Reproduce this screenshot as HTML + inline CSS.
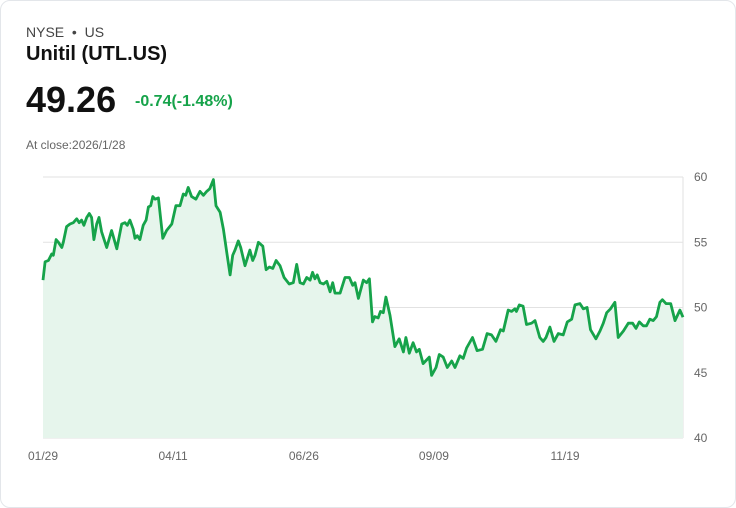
<!DOCTYPE html>
<html><head><meta charset="utf-8"><style>
body{margin:0;background:#fff;font-family:"Liberation Sans",sans-serif;}
.card{position:absolute;left:0;top:0;width:734px;height:506px;border:1px solid #e3e6ea;border-radius:10px;background:#fff;}
.t{position:absolute;white-space:nowrap;}
</style></head><body>
<div class="card">
<div class="t" style="left:25px;top:23px;font-size:14px;color:#444">NYSE &nbsp;•&nbsp; US</div>
<div class="t" style="left:25px;top:42px;font-size:20px;font-weight:bold;color:#111">Unitil (UTL.US)</div>
<div class="t" style="left:25px;top:78px;font-size:36px;font-weight:bold;color:#111">49.26</div>
<div class="t" style="left:134px;top:92px;font-size:16px;font-weight:bold;color:#16a34a">-0.74(-1.48%)</div>
<div class="t" style="left:25px;top:137px;font-size:12px;color:#666">At close:2026/1/28</div>
<svg id="chart" width="736" height="508" style="position:absolute;left:-1px;top:-1px"></svg>
</div>
<script>
const yTicks=[40,45,50,55,60];
const xLabels=["01/29","04/11","06/26","09/09","11/19"];
const xLabelDays=[0,50.6,101.5,152.1,203.1];
const totalDays=249;
const days=[0,0.8,2.1,3.4,4.0,5.1,6.0,7.3,7.9,9.2,10.5,11.8,13.1,14.1,15.0,15.9,17.0,18.0,18.9,19.8,20.9,21.8,22.8,24.8,26.7,28.7,30.6,31.9,32.8,33.8,35.1,35.8,36.7,37.7,39.0,40.1,41.0,41.9,42.7,43.6,44.9,46.6,48.1,50.1,51.7,53.3,54.6,55.5,56.5,57.8,59.5,61.1,62.4,63.7,64.9,66.3,67.3,68.9,70.2,71.5,72.8,73.8,74.7,76.0,76.9,78.6,80.5,81.6,82.5,83.8,85.5,86.8,88.1,89.4,90.7,92.2,93.8,95.8,97.4,98.7,100.0,101.3,102.6,103.9,104.9,105.8,106.7,107.8,109.1,110.4,111.7,112.7,113.6,115.6,117.5,119.2,120.5,121.4,122.7,124.6,125.9,127.0,
128.2,129.1,130.4,131.3,132.4,133.4,135.0,136.9,138.6,140.2,141.2,142.5,144.0,145.3,146.4,147.9,150.3,151.2,152.9,154.2,155.7,157.3,159.0,160.3,162.2,163.5,164.8,167.1,168.9,171.0,172.8,174.5,176.2,178.0,179.1,181.0,182.3,183.6,184.2,185.3,186.8,188.1,190.1,191.4,193.3,194.6,195.7,197.2,198.8,200.5,202.4,204.0,205.7,207.0,208.9,210.2,211.7,213.0,215.1,216.7,218.0,219.3,220.8,222.5,223.8,225.8,227.7,229.4,230.7,232.0,233.5,234.8,236.1,237.4,238.7,240.0,241.0,242.4,244.2,245.9,247.8,249];
const prices=[52.1,53.5,53.6,54.1,54.0,55.2,55.0,54.6,55.0,56.2,56.4,56.5,56.8,56.5,56.7,56.3,56.9,57.2,56.9,55.2,56.4,56.9,55.8,54.6,55.9,54.5,56.4,56.5,56.3,56.7,56.0,55.3,55.5,55.2,56.3,56.7,57.7,57.8,58.5,58.3,58.4,55.3,55.9,56.4,57.8,57.8,58.7,58.6,59.2,58.5,58.3,58.9,58.6,58.9,59.1,59.8,57.8,57.3,56.0,54.2,52.5,54.0,54.4,55.1,54.6,53.2,54.4,53.6,54.0,55.0,54.7,52.9,53.1,53.0,53.6,53.2,52.3,51.8,51.9,53.3,51.9,51.8,52.3,52.1,52.7,52.2,52.5,51.9,51.8,52.0,51.2,51.9,51.1,51.1,52.3,52.3,51.7,51.9,50.7,52.1,51.9,52.2,
48.9,49.3,49.2,49.7,49.6,50.8,49.4,47.0,47.6,46.6,47.7,46.5,47.3,46.6,46.8,45.7,46.2,44.8,45.4,46.4,46.2,45.4,45.9,45.4,46.3,46.1,46.9,47.7,46.7,46.8,48.0,47.9,47.4,48.3,48.2,49.8,49.7,49.9,49.7,50.2,50.1,48.7,48.8,49.0,47.7,47.4,47.7,48.5,47.4,48.0,47.9,48.9,49.1,50.2,50.3,49.9,50.0,48.3,47.6,48.2,48.8,49.6,49.9,50.4,47.7,48.2,48.8,48.8,48.4,48.9,48.6,48.6,49.1,49.0,49.3,50.4,50.6,50.3,50.3,49.0,49.8,49.26];
const svg=document.getElementById('chart');const NS='http://www.w3.org/2000/svg';
const X0=43,X1=683,Y0=438,Y1=177;
const x=d=>X0+(X1-X0)*d/totalDays;
const y=v=>Y0-(v-40)/20*(Y0-Y1);
function mk(t,a){const e=document.createElementNS(NS,t);for(const k in a)e.setAttribute(k,a[k]);svg.appendChild(e);return e;}
yTicks.forEach(v=>{
 const l=mk('line',{x1:X0,x2:X1,y1:y(v),y2:y(v),stroke:'#e2e2e2','stroke-width':1});
 
 
 const t=mk('text',{x:694,y:y(v)+4,'font-size':12,fill:'#666','font-family':'Liberation Sans'});t.textContent=v;
 
 
});
const ax=mk('line',{x1:X1,x2:X1,y1:Y1,y2:Y0,stroke:'#e2e2e2'});


let d=prices.map((v,i)=>(i?'L':'M')+x(days[i]).toFixed(1)+','+y(v).toFixed(1)).join('');
const area=mk('path',{d:d+`L${x(days[days.length-1])},${Y0}L${X0},${Y0}Z`,fill:'#e6f5ec'});


const line=mk('path',{d:d,fill:'none',stroke:'#16a34a','stroke-width':2.8,'stroke-linejoin':'round'});


xLabels.forEach((s,k)=>{
 const t=mk('text',{x:x(xLabelDays[k]),y:460,'font-size':12,fill:'#666','text-anchor':'middle','font-family':'Liberation Sans'});t.textContent=s;
 
 
});
</script>
</body></html>
